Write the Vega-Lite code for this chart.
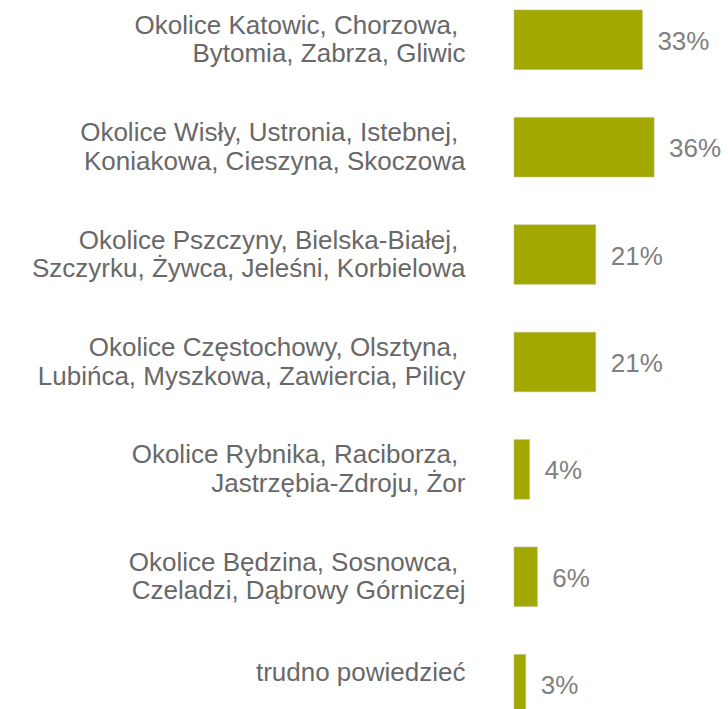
{
  "$schema": "https://vega.github.io/schema/vega-lite/v6.json",
  "width": 214,
  "height": 704,
  "autosize": "none",
  "padding": {"left": 514, "top": 10, "right": 0, "bottom": 0},
  "background": "white",
  "config": {"view": {"stroke": null}, "font": "Liberation Sans"},
  "data": {"values": [
    {"region": "Okolice Katowic, Chorzowa,\u00a0\u200b|Bytomia, Zabrza, Gliwic", "v": 0.33},
    {"region": "Okolice Wisły, Ustronia, Istebnej,\u00a0\u200b|Koniakowa, Cieszyna, Skoczowa", "v": 0.36},
    {"region": "Okolice Pszczyny, Bielska-Białej,\u00a0\u200b|Szczyrku, Żywca, Jeleśni, Korbielowa", "v": 0.21},
    {"region": "Okolice Częstochowy, Olsztyna,\u00a0\u200b|Lubińca, Myszkowa, Zawiercia, Pilicy", "v": 0.21},
    {"region": "Okolice Rybnika, Raciborza,\u00a0\u200b|Jastrzębia-Zdroju, Żor", "v": 0.04},
    {"region": "Okolice Będzina, Sosnowca,\u00a0\u200b|Czeladzi, Dąbrowy Górniczej", "v": 0.06},
    {"region": "trudno powiedzieć", "v": 0.03}
  ]},
  "encoding": {
    "y": {
      "field": "region", "type": "nominal", "sort": null,
      "scale": {"paddingInner": 0.446, "paddingOuter": 0},
      "axis": {
        "title": null, "domain": false, "ticks": false, "labelPadding": 49,
        "labelFont": "Liberation Sans", "labelFontSize": 26, "labelColor": "#686868",
        "labelLineHeight": 28.5, "labelLimit": 0,
        "labelOffset": {"condition": {"test": "indexof(datum.label, '|') < 0", "value": -11}, "value": -14},
        "labelExpr": "split(datum.label, '|')"
      }
    },
    "x": {
      "field": "v", "type": "quantitative",
      "scale": {"domain": [0, 0.55]},
      "axis": null
    }
  },
  "layer": [
    {"mark": {"type": "bar", "color": "#A3A800", "stroke": "#b9bb80", "strokeWidth": 0.6}},
    {
      "mark": {"type": "text", "align": "left", "baseline": "middle", "dx": 15, "dy": 2, "fontSize": 26, "color": "#808080", "font": "Liberation Sans"},
      "encoding": {"text": {"field": "v", "type": "quantitative", "format": ".0%"}}
    }
  ]
}
